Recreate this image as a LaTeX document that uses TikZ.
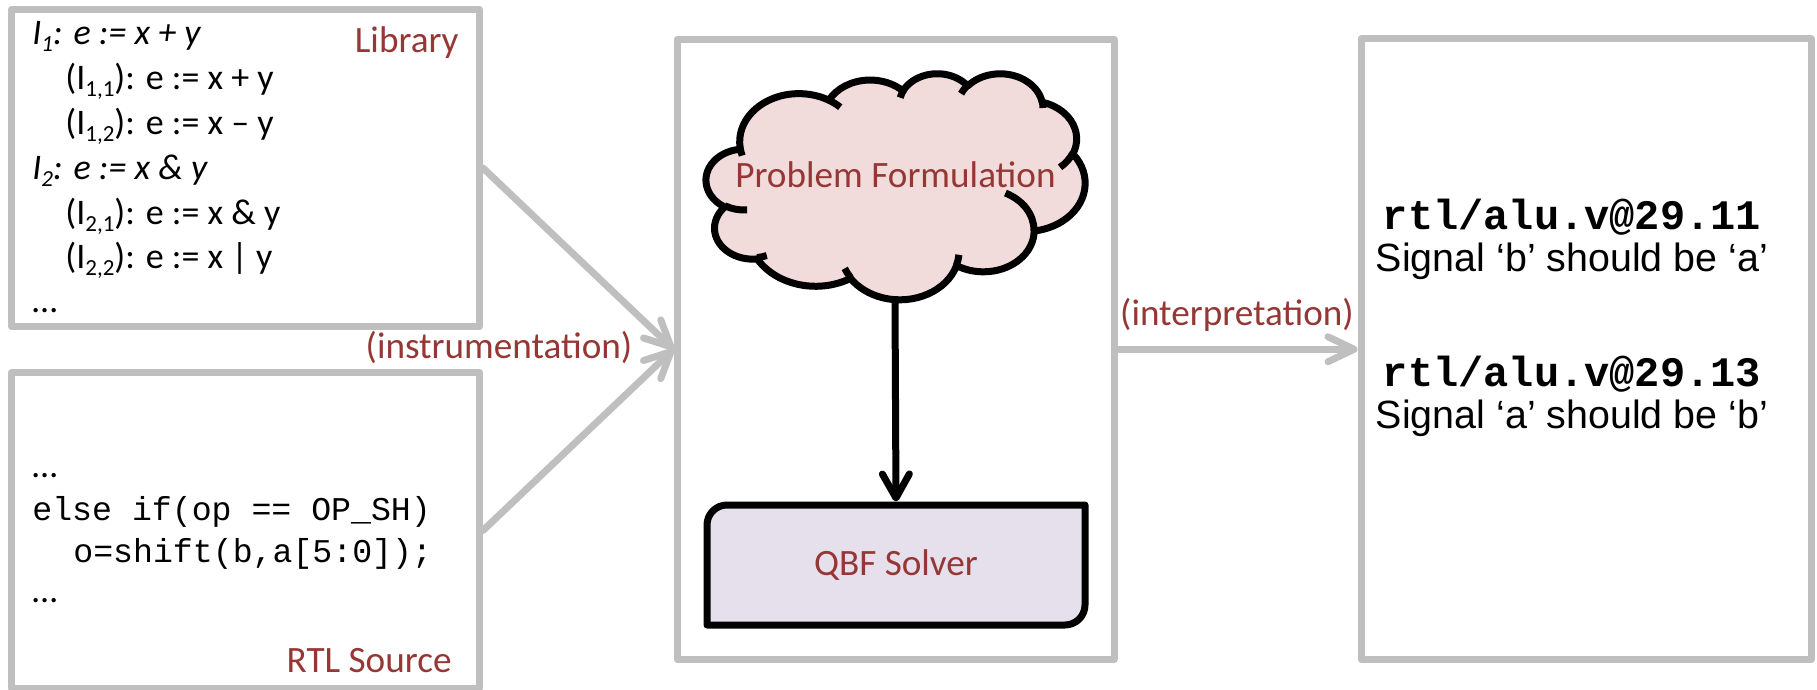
\documentclass[tikz,border=0pt]{standalone}
\usepackage{fontspec}
\setmainfont{Carlito}
\newfontfamily\sansfont{Liberation Sans}
\newfontfamily\monofont{Liberation Mono}
\usetikzlibrary{arrows.meta}

\definecolor{panelgray}{HTML}{BFBFBF}
\definecolor{labelred}{HTML}{953735}
\definecolor{cloudfill}{HTML}{F2DCDB}
\definecolor{solverfill}{HTML}{E6E0EC}

% lowered index for the instrumentation names
\newcommand\idx[1]{\raisebox{-3.5pt}{\fontsize{11.5}{11.5}\selectfont #1}}

% arcTo with a visual start angle and sweep, turned into parametric angles
\newcommand\ooarc[4]{%
  \pgfmathsetmacro\ooTa{atan2((#1)*sin(#3),(#2)*cos(#3))}%
  \pgfmathsetmacro\ooTe{#3+#4}%
  \pgfmathsetmacro\ooTb{atan2((#1)*sin(\ooTe),(#2)*cos(\ooTe))}%
  \ifdim #4pt>0pt
    \ifdim\ooTb pt<\ooTa pt \pgfmathsetmacro\ooTb{\ooTb+360}\fi
  \else
    \ifdim\ooTb pt>\ooTa pt \pgfmathsetmacro\ooTb{\ooTb-360}\fi
  \fi}
\newcommand\ooarcto[4]{\pgfextra{\ooarc{#1}{#2}{#3}{#4}} arc[x radius=#1, y radius=#2, start angle=\ooTa, end angle=\ooTb]}

\begin{document}
\begin{tikzpicture}[x=0.5pt,y=-0.5pt,
  panel/.style={draw=panelgray, line width=3.5pt, line join=round, inner sep=0pt, outer sep=1.75pt},
  grayflow/.style={draw=panelgray, line width=3.5pt, line cap=round, -{Straight Barb[round,length=13pt,width=12.5pt]}},
  blackflow/.style={draw=black, line width=3.5pt, -{Straight Barb[round,length=12pt,width=13.5pt]}},
  cloudline/.style={draw=black, line width=3.5pt, line join=round},
  redlabel/.style={inner sep=0pt, text=labelred, font=\fontsize{18.6}{22}\selectfont},
  libline/.style={inner sep=0pt, anchor=base west, font=\fontsize{18}{21.6}\selectfont},
  srcline/.style={inner sep=0pt, anchor=base west, font=\monofont\fontsize{16.6}{20}\selectfont},
  locline/.style={inner sep=0pt, anchor=base, font=\monofont\bfseries\fontsize{21}{24}\selectfont},
  sigline/.style={inner sep=0pt, anchor=base, font=\sansfont\fontsize{19.7}{23}\selectfont}]

\useasboundingbox (0,0) rectangle (1817,690);
\clip (0,0) rectangle (1817,690);

% the four panels
\node[panel, minimum width=234pt, minimum height=158.5pt] (lib) at (245.5,168) {};
\node[panel, minimum width=234pt, minimum height=158pt] (rtl) at (245.5,530.5) {};
\node[panel, minimum width=218.5pt, minimum height=309.75pt] (core) at (895.5,349.25) {};
\node[panel, minimum width=225pt, minimum height=310.25pt] (report) at (1586,349.25) {};

% library of instrumentations
\node[libline] (l1) at (32,45) {\textit{I\idx{1}: e := x + y}};
\node[libline] (l2) at (65,90) {(I\idx{1,1}): e := x + y};
\node[libline] (l3) at (65,135) {(I\idx{1,2}): e := x – y};
\node[libline] (l4) at (32,180) {\textit{I\idx{2}: e := x \& y}};
\node[libline] (l5) at (65,225) {(I\idx{2,1}): e := x \& y};
\node[libline] (l6) at (65,268) {(I\idx{2,2}): e := x | y};
\node[libline] (l7) at (32,313) {…};
\node[redlabel, anchor=base east] (libname) at (459,53) {Library};

% RTL source excerpt
\node[libline] (s1) at (32,477) {…};
\node[srcline] (s2) at (32,520) {else if(op == OP\_SH)};
\node[srcline] (s3) at (73,562) {o=shift(b,a[5:0]);};
\node[libline] (s4) at (32,602) {…};
\node[redlabel, anchor=base east] (rtlname) at (452,672) {RTL Source};

% problem formulation cloud
\begin{scope}[shift={(706,73)}, x=0.43866pt, y=-0.26157pt]
  \draw[cloudline, fill=cloudfill] (39.00,143.70)
    \ooarcto{67.53}{91.90}{-190.4875}{123.7805}
    \ooarcto{53.33}{72.67}{-144.1024}{89.9452}
    \ooarcto{43.65}{59.45}{-145.8079}{99.7230}
    \ooarcto{48.57}{65.95}{-130.9861}{117.2417}
    \ooarcto{53.33}{72.73}{-78.7089}{109.0269}
    \ooarcto{67.75}{92.20}{-46.2673}{130.2690}
    \ooarcto{57.85}{78.67}{0.6250}{114.0333}
    \ooarcto{67.52}{92.15}{22.4516}{115.1726}
    \ooarcto{77.20}{105.43}{66.2426}{75.2234}
    \ooarcto{43.60}{59.18}{-274.9421}{146.7356}
    \ooarcto{43.45}{59.45}{-246.8285}{152.5189}
    -- cycle;
  \draw[cloudline]
    (46.93,261.77) \ooarcto{43.45}{59.45}{86.7420}{26.4295}
    (69.28,348.99) \ooarcto{43.60}{59.18}{73.6105}{11.4475}
    (164.78,390.90) \ooarcto{67.52}{92.15}{137.6242}{14.0811}
    (288.27,347.51) \ooarcto{67.52}{92.15}{6.4533}{15.9984}
    (341.29,229.54) \ooarcto{57.85}{78.67}{-70.2924}{70.9174}
    (417.98,153.54) \ooarcto{53.33}{72.73}{30.3180}{27.7515}
    (383.24,54.26) \ooarcto{48.57}{65.95}{-13.7443}{14.8589}
    (290.78,39.52) \ooarcto{48.57}{65.95}{-149.1815}{18.1954}
    (221.41,47.20) \ooarcto{43.65}{59.45}{-163.4943}{17.6864}
    (140.00,51.92) \ooarcto{67.53}{91.90}{-66.7070}{12.3194}
    (41.27,157.89) \ooarcto{67.53}{91.90}{157.6544}{11.8582};
\end{scope}
\node[redlabel, anchor=base] (formulation) at (895.5,188) {Problem Formulation};
\coordinate (cloudbottom) at (895,300);

% solver box with two rounded corners
\draw[cloudline, fill=solverfill] (707,625) -- (707,525)
  .. controls (707,514) and (716,505) .. (727,505) -- (1085,505) -- (1085,605)
  .. controls (1085,616) and (1076,625) .. (1065,625) -- cycle;
\node[redlabel, minimum width=189pt, minimum height=60pt, outer sep=1.75pt] (qbf) at (896,565) {QBF Solver};

% connectors
\draw[grayflow] (lib.east) -- (core.west);
\draw[grayflow] (rtl.east) -- (core.west);
\draw[grayflow] (core.east) -- (report.west);
\draw[blackflow] (cloudbottom) -- (qbf.north);

\node[redlabel, anchor=base] (instr) at (499,358) {(instrumentation)};
\node[redlabel, anchor=base] (interp) at (1237,325) {(interpretation)};

% diagnosis report
\node[locline] (r1) at (1572,229) {rtl/alu.v@29.11};
\node[sigline] (r2) at (1572,271) {Signal ‘b’ should be ‘a’};
\node[locline] (r3) at (1572,386) {rtl/alu.v@29.13};
\node[sigline] (r4) at (1572,428) {Signal ‘a’ should be ‘b’};
\end{tikzpicture}
\end{document}
